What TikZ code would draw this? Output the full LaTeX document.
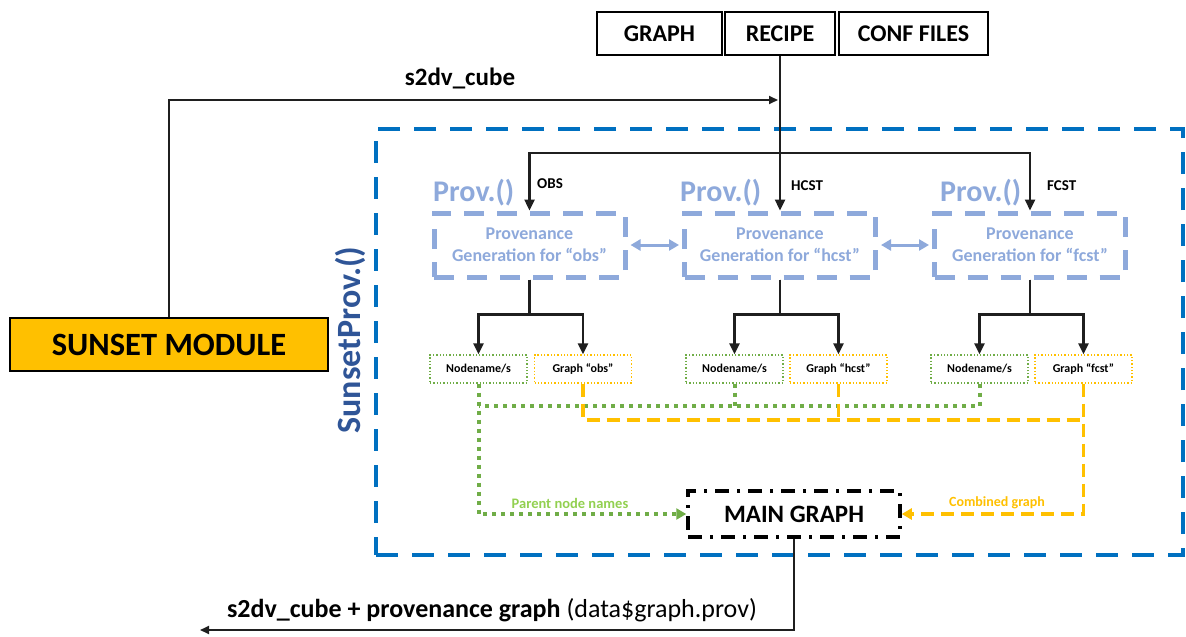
\documentclass[tikz,border=0pt]{standalone}
\usepackage{fontspec}
\setmainfont{Carlito}
\usepackage{xcolor}
\usepackage{tikz}
\usetikzlibrary{arrows.meta,positioning,calc}
\definecolor{sunblue}{HTML}{0070C0}
\definecolor{provblue}{HTML}{8EA9DB}
\definecolor{titleblue}{HTML}{2F5597}
\definecolor{sunyellow}{HTML}{FFC000}
\definecolor{nodegreen}{HTML}{70AD47}
\definecolor{labelgreen}{HTML}{92D050}

\begin{document}
\begin{tikzpicture}[
x=1pt,
y=-1pt,
every node/.style={font=\bfseries},
inbox/.style={rectangle,draw,line width=1.3pt,minimum height=43pt,inner sep=0pt,font=\fontsize{24}{26}\selectfont\bfseries},
modulebox/.style={rectangle,draw,line width=1.6pt,fill=sunyellow,minimum width=318pt,minimum height=53pt,font=\fontsize{32.5}{34}\selectfont\bfseries},
frame/.style={rectangle,draw=sunblue,line width=4.5pt,dash pattern=on 22pt off 14pt,minimum width=807pt,minimum height=426pt},
provbox/.style={rectangle,draw=provblue,line width=5pt,dash pattern=on 20pt off 13pt,minimum width=191pt,minimum height=64pt,align=center,text=provblue,font=\fontsize{18}{22}\selectfont\bfseries},
namebox/.style={rectangle,draw=nodegreen,dotted,line width=1.3pt,minimum width=97pt,minimum height=28pt,inner sep=0pt,font=\fontsize{12}{14}\selectfont\bfseries},
graphbox/.style={namebox,draw=sunyellow},
mainbox/.style={rectangle,draw,line width=3.5pt,dash pattern=on 14pt off 8pt on 3pt off 8pt,minimum width=212pt,minimum height=46pt,font=\fontsize{25}{27}\selectfont\bfseries},
provhead/.style={text=provblue,inner sep=0pt,font=\fontsize{30}{32}\selectfont\bfseries},
flowlab/.style={inner sep=0pt,font=\fontsize{15}{17}\selectfont\bfseries},
wire/.style={line width=2.4pt,draw=black!88},
arr/.style={wire,-{Triangle[length=11pt,width=10pt]}},
thinarr/.style={line width=1.8pt,draw=black!88,-{Triangle[length=9pt,width=8pt]}},
provarr/.style={line width=3pt,draw=provblue,{Triangle[length=10pt,width=11pt]}-{Triangle[length=10pt,width=11pt]},shorten <=3pt,shorten >=3pt},
greenline/.style={line width=4pt,draw=nodegreen,dash pattern=on 4pt off 5pt},
yellowline/.style={line width=3.5pt,draw=sunyellow,dash pattern=on 13pt off 7pt}
]
\useasboundingbox (0,0) rectangle (1186,637);

% inputs on top
\node[inbox,minimum width=125pt] (graphin) at (659.5,33.5) {GRAPH};
\node[inbox,minimum width=110pt] (recipe) at (780,33.5) {RECIPE};
\node[inbox,minimum width=149pt] (conf) at (913.5,33.5) {CONF FILES};

\node[modulebox] (sunset) at (169,344.5) {SUNSET MODULE};

% the SunsetProv.() frame
\node[frame] (provframe) at (779.5,342) {};
\node[rotate=90,text=titleblue,inner sep=0pt,font=\fontsize{34}{36}\selectfont\bfseries] (framelabel) at (350,340) {SunsetProv.()};

\node[provbox] (prov1) at (529.5,245) {Provenance\\Generation for “obs”};
\node[provbox] (prov2) at (780,245) {Provenance\\Generation for “hcst”};
\node[provbox] (prov3) at (1030,245) {Provenance\\Generation for “fcst”};

\node[provhead,anchor=south west] (head1) at (433,206) {Prov.()};
\node[provhead,anchor=south west] (head2) at (680,206) {Prov.()};
\node[provhead,anchor=south west] (head3) at (940,206) {Prov.()};

\node[flowlab,anchor=west] (obslab) at (537,184) {OBS};
\node[flowlab,anchor=west] (hcstlab) at (791,186) {HCST};
\node[flowlab,anchor=west] (fcstlab) at (1047,186) {FCST};

\node[namebox] (nodes1) at (478.5,369) {Nodename/s};
\node[graphbox] (graph1) at (583,369) {Graph “obs”};
\node[namebox] (nodes2) at (734.5,369) {Nodename/s};
\node[graphbox] (graph2) at (838.5,369) {Graph “hcst”};
\node[namebox] (nodes3) at (979.5,369) {Nodename/s};
\node[graphbox] (graph3) at (1083.5,369) {Graph “fcst”};

\node[mainbox] (main) at (794,514) {MAIN GRAPH};

\node[text=labelgreen,font=\fontsize{14.5}{16}\selectfont\bfseries] (parentlab) at (570,503) {Parent node names};
\node[text=sunyellow,font=\fontsize{14}{16}\selectfont\bfseries] (combinedlab) at (997,503) {Combined graph};

\node[font=\fontsize{25}{27}\selectfont\bfseries] (cubelab) at (460,78) {s2dv\_cube};
\node[font=\fontsize{26}{28}\selectfont] (outlab) at (492,610) {\textbf{s2dv\_cube + provenance graph} (data\$graph.prov)};

\coordinate (cubein) at (778,100);
\coordinate (bus) at (780,153);
\coordinate (greenbus) at (0,406);
\coordinate (yellowbus) at (0,420);
\coordinate (out) at (200,630);

% data into the recipe line
\draw[thinarr] (sunset.north) |- (cubein);
\draw[wire] (recipe.south) -- (bus);
\draw[arr] (bus) -| (prov1.north);
\draw[arr] (bus) -- (prov2.north);
\draw[arr] (bus) -| (prov3.north);

\draw[provarr] (prov1.east) -- (prov2.west);
\draw[provarr] (prov2.east) -- (prov3.west);

\draw[arr] (prov1.south) -- ++(0,35) -| (nodes1.north);
\draw[arr] (prov1.south) -- ++(0,35) -| (graph1.north);
\draw[arr] (prov2.south) -- ++(0,35) -| (nodes2.north);
\draw[arr] (prov2.south) -- ++(0,35) -| (graph2.north);
\draw[arr] (prov3.south) -- ++(0,35) -| (nodes3.north);
\draw[arr] (prov3.south) -- ++(0,35) -| (graph3.north);

% node names and graphs into the main graph
\draw[greenline] (nodes3.south) |- (nodes1.south |- greenbus);
\draw[greenline] (nodes2.south) -- (nodes2.south |- greenbus);
\draw[greenline,-{Triangle[length=10pt,width=11pt]}] (nodes1.south) |- (main.west);
\draw[yellowline] (graph1.south) |- (graph3.south |- yellowbus);
\draw[yellowline] (graph2.south) -- (graph2.south |- yellowbus);
\draw[yellowline,-{Triangle[length=10pt,width=11pt]}] (graph3.south) |- (main.east);

\draw[thinarr] (main.south) |- (out);
\end{tikzpicture}
\end{document}
